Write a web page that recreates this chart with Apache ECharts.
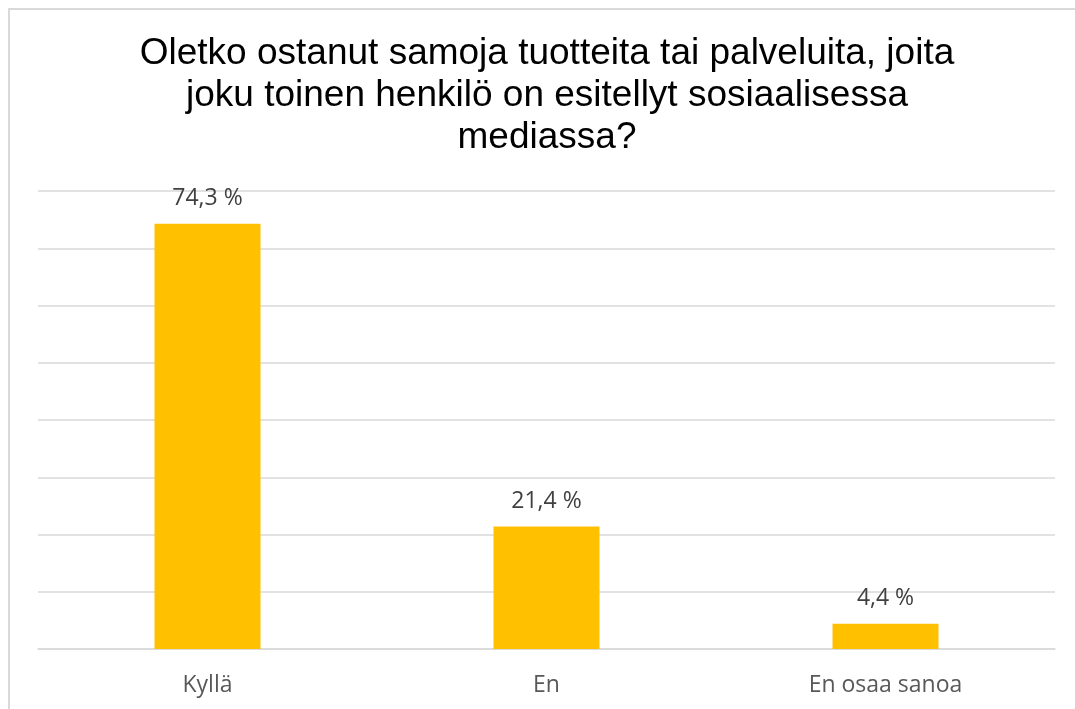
<!DOCTYPE html>
<html><head><meta charset="utf-8">
<script src="https://cdn.jsdelivr.net/npm/echarts@6/dist/echarts.min.js"></script>
<style>html,body{margin:0;padding:0;background:#fff}#c{width:1075px;height:709px}</style>
</head><body><div id="c"></div>
<script>
const categories = ['Kyllä', 'En', 'En osaa sanoa'];
const values = [74.3, 21.4, 4.4];
const titleText = 'Oletko ostanut samoja tuotteita tai palveluita, joita\njoku toinen henkilö on esitellyt sosiaalisessa\nmediassa?';

const chart = echarts.init(document.getElementById('c'));
chart.setOption({
  animation: false,
  backgroundColor: '#fff',
  title: {
    text: titleText, left: 542, top: 28, textAlign: 'center',
    textStyle: {fontFamily: 'Liberation Sans', fontSize: 37, fontWeight: 'normal', color: '#000', lineHeight: 42}
  },
  graphic: [{type: 'rect', shape: {x: 9, y: 9, width: 1200, height: 900}, style: {fill: 'none', stroke: '#d9d9d9', lineWidth: 2}}],
  grid: {left: 38, right: 20, top: 191, bottom: 60},
  xAxis: {
    type: 'category', data: categories,
    axisLine: {lineStyle: {color: '#d9d9d9', width: 1.5}},
    axisTick: {show: false},
    axisLabel: {fontFamily: 'Open Sans', fontSize: 23, color: '#595959', margin: 25}
  },
  yAxis: {
    type: 'value', min: 0, max: 80, interval: 10,
    axisLabel: {show: false}, axisLine: {show: false}, axisTick: {show: false},
    splitLine: {lineStyle: {color: '#d9d9d9', width: 1.5}}
  },
  series: [{
    type: 'bar', data: values, barWidth: 106,
    itemStyle: {color: '#ffc000'},
    label: {show: true, position: 'top', distance: 14, fontFamily: 'Open Sans', fontSize: 23, color: '#404040',
      formatter: p => String(p.value).replace('.', ',') + ' %'}
  }]
});
</script></body></html>
